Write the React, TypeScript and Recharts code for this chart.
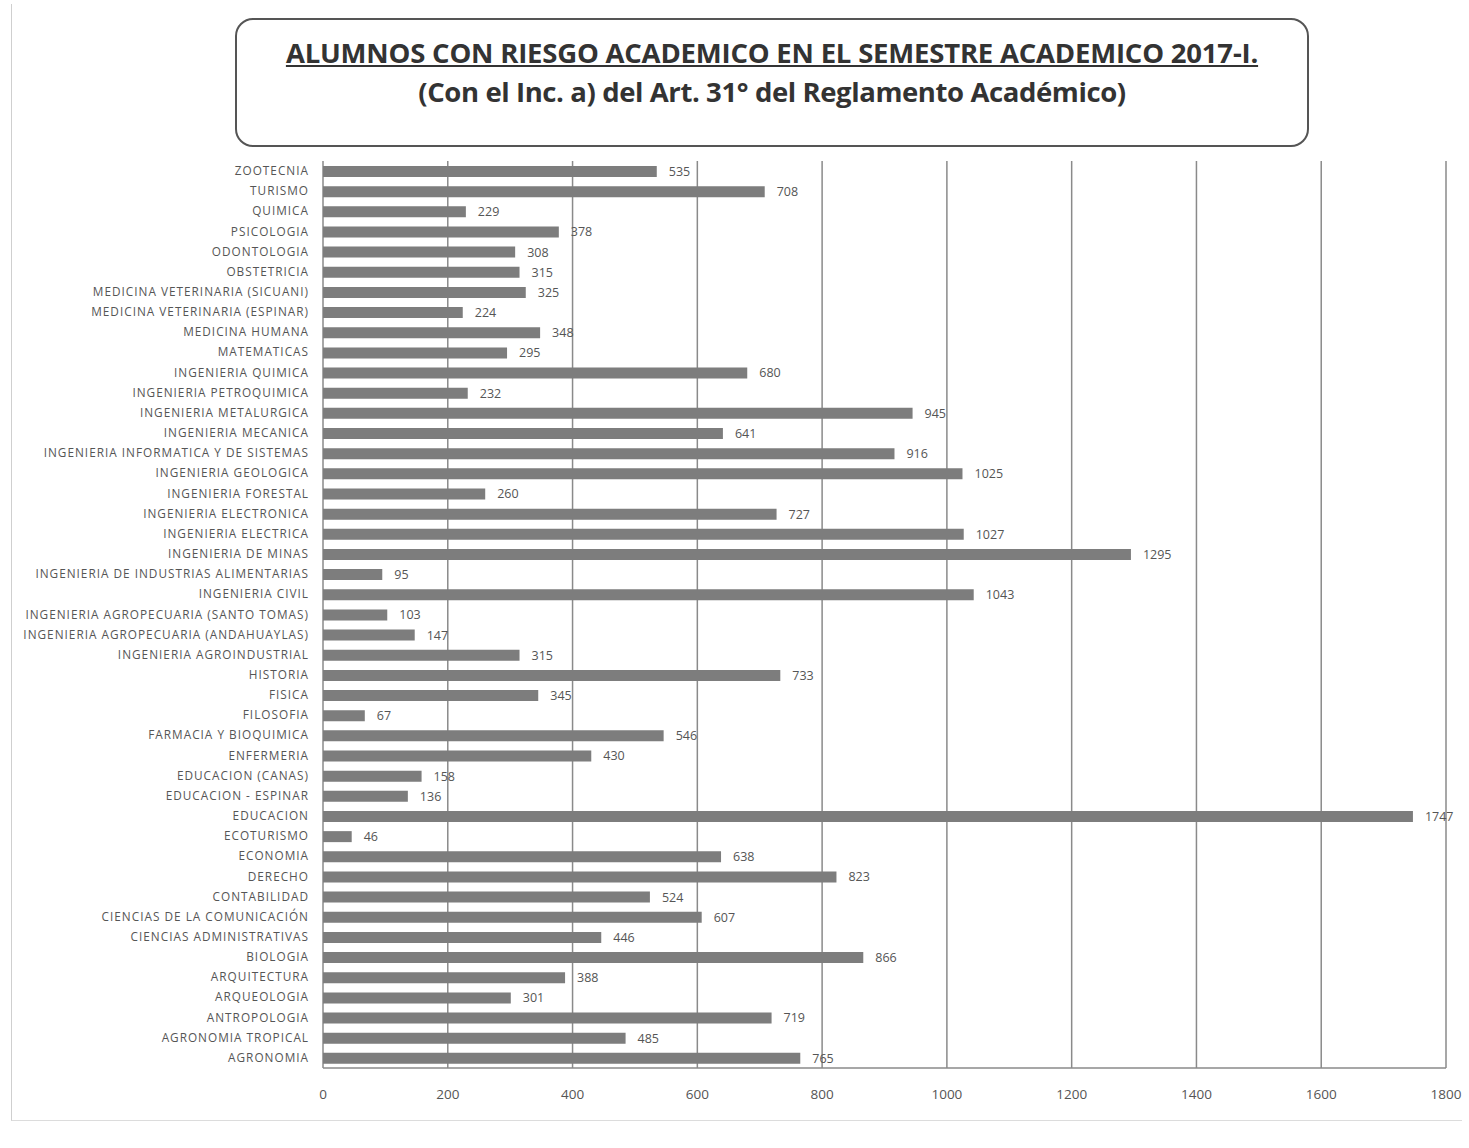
import React from "react"
import { Bar, BarChart, CartesianGrid, LabelList, XAxis, YAxis } from "recharts"

const carreras = [
  "ZOOTECNIA",
  "TURISMO",
  "QUIMICA",
  "PSICOLOGIA",
  "ODONTOLOGIA",
  "OBSTETRICIA",
  "MEDICINA VETERINARIA (SICUANI)",
  "MEDICINA VETERINARIA (ESPINAR)",
  "MEDICINA HUMANA",
  "MATEMATICAS",
  "INGENIERIA QUIMICA",
  "INGENIERIA PETROQUIMICA",
  "INGENIERIA METALURGICA",
  "INGENIERIA MECANICA",
  "INGENIERIA INFORMATICA Y DE SISTEMAS",
  "INGENIERIA GEOLOGICA",
  "INGENIERIA FORESTAL",
  "INGENIERIA ELECTRONICA",
  "INGENIERIA ELECTRICA",
  "INGENIERIA DE MINAS",
  "INGENIERIA DE INDUSTRIAS ALIMENTARIAS",
  "INGENIERIA CIVIL",
  "INGENIERIA AGROPECUARIA (SANTO TOMAS)",
  "INGENIERIA AGROPECUARIA (ANDAHUAYLAS)",
  "INGENIERIA AGROINDUSTRIAL",
  "HISTORIA",
  "FISICA",
  "FILOSOFIA",
  "FARMACIA Y BIOQUIMICA",
  "ENFERMERIA",
  "EDUCACION (CANAS)",
  "EDUCACION - ESPINAR",
  "EDUCACION",
  "ECOTURISMO",
  "ECONOMIA",
  "DERECHO",
  "CONTABILIDAD",
  "CIENCIAS DE LA COMUNICACIÓN",
  "CIENCIAS ADMINISTRATIVAS",
  "BIOLOGIA",
  "ARQUITECTURA",
  "ARQUEOLOGIA",
  "ANTROPOLOGIA",
  "AGRONOMIA TROPICAL",
  "AGRONOMIA",
]

const alumnos = [
  535, 708, 229, 378, 308, 315, 325, 224, 348, 295, 680, 232, 945, 641, 916,
  1025, 260, 727, 1027, 1295, 95, 1043, 103, 147, 315, 733, 345, 67, 546, 430,
  158, 136, 1747, 46, 638, 823, 524, 607, 446, 866, 388, 301, 719, 485, 765,
]

const xTicks = [0, 200, 400, 600, 800, 1000, 1200, 1400, 1600, 1800]

const data = carreras.map((name, i) => ({ name, value: alumnos[i] }))

const font = "'Open Sans', 'DejaVu Sans', sans-serif"

// one-line category label, no wrapping
function CarreraTick(props: any) {
  const { x, y, payload } = props
  return (
    <text x={x} y={y} dy={4} textAnchor="end" fill="#555" fontSize={11.8} letterSpacing={1} fontFamily={font}>
      {payload.value}
    </text>
  )
}

export default function App() {
  return (
    <div style={{ position: "absolute", left: 0, top: 0, width: 1469, height: 1148, background: "white", fontFamily: font }}>
      <div
        style={{
          position: "absolute",
          left: 11,
          top: 4,
          width: 1450,
          height: 1116,
          borderLeft: "1px solid #cfcfcf",
          borderBottom: "1px solid #dcdcdc",
        }}
      />
      <div
        style={{
          position: "absolute",
          left: 235,
          top: 18,
          width: 1070,
          height: 125,
          border: "2px solid #555",
          borderRadius: 18,
          textAlign: "center",
          color: "#333",
          fontWeight: 700,
        }}
      >
        <div style={{ marginTop: 15, fontSize: 27.5, lineHeight: "36px", textDecoration: "underline", letterSpacing: -0.2 }}>
          ALUMNOS CON RIESGO ACADEMICO EN EL SEMESTRE ACADEMICO 2017-I.
        </div>
        <div style={{ marginTop: 3, fontSize: 27.5, lineHeight: "36px", letterSpacing: -0.4 }}>
          (Con el Inc. a) del Art. 31° del Reglamento Académico)
        </div>
      </div>
      <div style={{ position: "absolute", left: 0, top: 0 }}>
        <BarChart
          width={1469}
          height={1148}
          data={data}
          layout="vertical"
          margin={{ top: 161, right: 23, bottom: 0, left: 0 }}
          barCategoryGap={4}
        >
          <CartesianGrid horizontal={false} stroke="#8a8a8a" strokeWidth={1.5} />
          <XAxis
            type="number"
            domain={[0, 1800]}
            ticks={xTicks}
            height={80}
            axisLine={{ stroke: "#8a8a8a", strokeWidth: 1.5 }}
            tickLine={false}
            tickMargin={15}
            tick={{ fill: "#555", fontSize: 13.5, fontFamily: font }}
          />
          <YAxis
            type="category"
            dataKey="name"
            width={323}
            interval={0}
            axisLine={false}
            tickLine={false}
            tickSize={0}
            tickMargin={14}
            tick={<CarreraTick />}
          />
          <Bar dataKey="value" fill="#7d7d7d" barSize={11} isAnimationActive={false}>
            <LabelList dataKey="value" position="right" offset={12} fill="#555" fontSize={12.5} fontFamily={font} />
          </Bar>
        </BarChart>
      </div>
    </div>
  )
}
